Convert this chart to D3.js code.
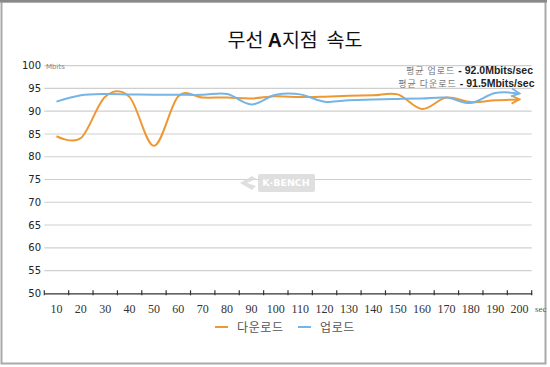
<!DOCTYPE html>
<html><head><meta charset="utf-8">
<script src="https://cdn.jsdelivr.net/npm/d3@7"></script>
<style>body{margin:0;background:#fff}svg{display:block}</style>
</head><body>
<script>
const categories = ["10","20","30","40","50","60","70","80","90","100","110","120","130","140","150","160","170","180","190","200"];
const download = [84.5,84.1,93.2,93.1,82.4,93.3,93.0,93.0,92.8,93.3,93.1,93.2,93.4,93.5,93.7,90.5,93.0,92.0,92.4,92.6];
const upload   = [92.1,93.5,93.8,93.7,93.6,93.6,93.6,93.8,91.5,93.6,93.7,92.1,92.4,92.6,92.7,92.8,93.0,91.8,94.0,93.9];
const yTicks = [50,55,60,65,70,75,80,85,90,95,100];
const seriesNames = ["다운로드","업로드"];
const annotations = [["평균 업로드"," - 92.0Mbits/sec"],["평균 다운로드"," - 91.5Mbits/sec"]];

const W=550,H=367;
const colors=["#EE9833","#74B4E6"];
const svg=d3.select("body").append("svg").attr("width",W).attr("height",H);

// frame
svg.append("rect").attr("x",1.5).attr("y",1.5).attr("width",544).attr("height",362)
  .attr("fill","#fff").attr("stroke","#a9a9a9").attr("stroke-width",2);
svg.append("line").attr("x1",0).attr("x2",547).attr("y1",1).attr("y2",1).attr("stroke","#8a8a8a").attr("stroke-width",3);

const x=d3.scaleBand().domain(categories).range([44.3,531.7]);
const y=d3.scaleLinear().domain([50,100]).range([293.3,65.7]);
const cx=c=>x(c)+x.bandwidth()/2;

// title
const t=svg.append("text").attr("x",295).attr("y",47).attr("text-anchor","middle").style("white-space","pre")
  .attr("font-family","'Noto Sans CJK KR',sans-serif").attr("font-size",19.5).attr("fill","#111");
t.append("tspan").text("무선 ");
t.append("tspan").attr("font-weight","bold").attr("font-family","'Liberation Sans',Arial,sans-serif").text("A");
t.append("tspan").text("지점  속도");

// gridlines
svg.append("g").selectAll("line").data(yTicks.filter(v=>v>50)).join("line")
  .attr("x1",44.3).attr("x2",531.7).attr("y1",d=>y(d)).attr("y2",d=>y(d))
  .attr("stroke","#cfcfcf").attr("stroke-width",1.2);

// y axis labels
const ya=svg.append("g").attr("transform","translate(41,0)")
  .call(d3.axisLeft(y).tickValues(yTicks).tickSize(0).tickPadding(0));
ya.select(".domain").remove();
ya.selectAll("text").attr("font-family","'DejaVu Sans',Verdana,sans-serif").attr("font-size",10).attr("fill","#222");

svg.append("text").attr("x",46).attr("y",69).attr("font-family","'DejaVu Sans',sans-serif")
  .attr("font-size",7).attr("fill","#888").text("Mbits");

// x axis
const xa=svg.append("g").attr("transform","translate(0,293.3)")
  .call(d3.axisBottom(x).tickSize(0).tickPadding(11));
xa.attr("font-family",null);
xa.select(".domain").attr("stroke","#333").attr("stroke-width",1.2);
xa.selectAll("text").attr("font-family","'Liberation Serif','Times New Roman',serif").attr("font-size",12).attr("fill","#333");
const edges=categories.map(c=>x(c)).concat([x.range()[1]]);
xa.selectAll("line.edge").data(edges).join("line").attr("class","edge")
  .attr("x1",d=>d).attr("x2",d=>d).attr("y1",-3).attr("y2",2).attr("stroke","#333").attr("stroke-width",1.2);
svg.append("text").attr("x",535).attr("y",312).attr("font-family","'Liberation Serif',serif")
  .attr("font-size",9).attr("fill","#555").text("sec");

// watermark
const wm=svg.append("g").attr("opacity",0.9);
wm.append("path").attr("d","M252,176 L240,183 L252,190 L256,186 L247,183 L256,179 Z").attr("fill","#dcdcdc");
wm.append("rect").attr("x",258).attr("y",174).attr("width",57).attr("height",18).attr("rx",2).attr("fill","#dcdcdc");
wm.append("text").attr("x",286).attr("y",186).attr("text-anchor","middle").attr("font-family","'DejaVu Sans',sans-serif")
  .attr("font-weight","bold").attr("font-size",9.5).attr("fill","#fff").text("K·BENCH");

// markers
const defs=svg.append("defs");
colors.forEach((c,i)=>{
  defs.append("marker").attr("id","arr"+i).attr("markerUnits","userSpaceOnUse")
    .attr("markerWidth",12).attr("markerHeight",12).attr("refX",9).attr("refY",5).attr("orient","auto")
    .append("path").attr("d","M1,1 L9,5 L1,9").attr("fill","none").attr("stroke",c).attr("stroke-width",1.8);
});

const line=d3.line().x((d,i)=>cx(categories[i])).y(d=>y(d)).curve(d3.curveCardinal.tension(0));
[download,upload].forEach((s,i)=>{
  svg.append("path").datum(s).attr("d",line).attr("fill","none").attr("stroke",colors[i])
    .attr("stroke-width",2).attr("marker-end","url(#arr"+i+")");
});

// annotations
annotations.forEach((a,i)=>{
  const tx=svg.append("text").attr("x",533+i*1.5).attr("y",73.5+i*13.3).attr("text-anchor","end");
  tx.append("tspan").attr("font-family","'Noto Sans CJK KR',sans-serif").attr("font-size",9)
    .attr("letter-spacing",1).attr("fill","#777").text(a[0]);
  tx.append("tspan").attr("font-family","'Liberation Sans',Arial,sans-serif").attr("font-weight","bold").attr("font-size",10.5).attr("fill","#222").text(a[1]);
});

// legend
const lg=svg.append("g");
const lx=[215,298];
seriesNames.forEach((n,i)=>{
  lg.append("line").attr("x1",lx[i]).attr("x2",lx[i]+13).attr("y1",327).attr("y2",327).attr("stroke",colors[i]).attr("stroke-width",2);
  lg.append("text").attr("x",lx[i]+22).attr("y",331.5).attr("font-family","'Noto Sans CJK KR',sans-serif")
    .attr("font-size",12).attr("letter-spacing",0.6).attr("fill","#555").text(n);
});
</script>
</body></html>
